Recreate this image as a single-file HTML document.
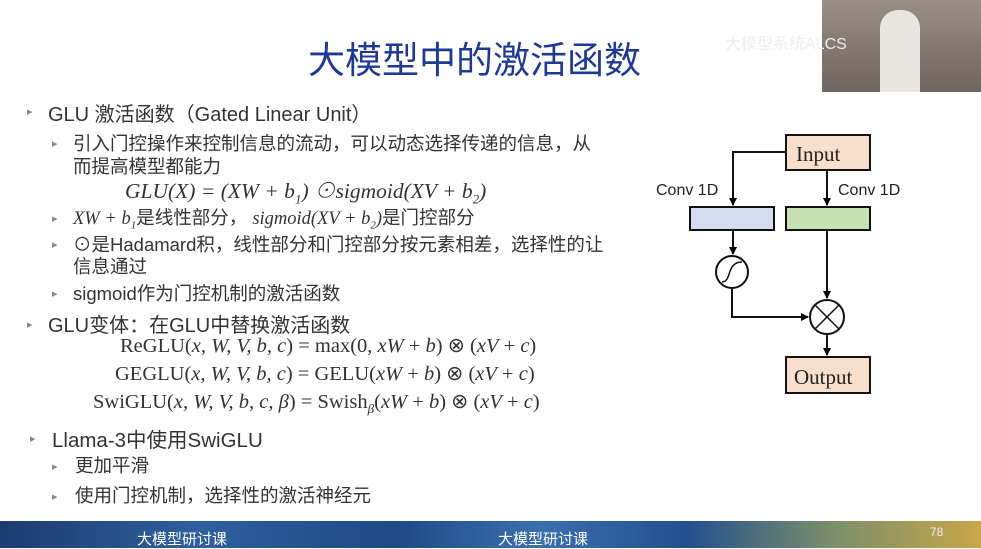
<!DOCTYPE html>
<html><head><meta charset="utf-8"><style>
body{margin:0;width:981px;height:548px;overflow:hidden;background:#fff;position:relative;font-family:"Liberation Sans","Noto Sans CJK SC",sans-serif;color:#333}
.t{position:absolute;white-space:nowrap}
.b{position:absolute;font-size:11px;color:#888}
.m{font-family:"Liberation Serif","Noto Serif CJK SC",serif;font-style:italic}
.r{font-family:"Liberation Serif",serif}
</style></head><body>
<div class="t" style="left:308px;top:30px;font-size:37px;color:#1f3a93">大模型中的激活函数</div>
<div style="position:absolute;left:822px;top:0;width:159px;height:92px;background:linear-gradient(#9a8f86,#6e6660)"></div>
<div style="position:absolute;left:880px;top:10px;width:40px;height:82px;background:#e9e6e2;border-radius:18px 18px 0 0"></div>
<div class="t" style="left:725px;top:30px;font-size:16px;color:#eee">大模型系统ALCS</div>

<div class="b" style="left:27px;top:105px">▸</div>
<div class="t" style="left:48px;top:98px;font-size:20px">GLU 激活函数（Gated Linear Unit）</div>
<div class="b" style="left:52px;top:137px">▸</div>
<div class="t" style="left:73px;top:130px;font-size:18.5px">引入门控操作来控制信息的流动，可以动态选择传递的信息，从</div>
<div class="t" style="left:73px;top:153px;font-size:18.5px">而提高模型都能力</div>
<div class="t m" style="left:125px;top:174px;font-size:21.5px">GLU(X) = (XW + b<sub style="font-size:13px">1</sub>) ⊙sigmoid(XV + b<sub style="font-size:13px">2</sub>)</div>
<div class="b" style="left:52px;top:212px">▸</div>
<div class="t" style="left:73px;top:204px;font-size:18.5px"><span class="m">XW + b<sub style="font-size:11px">1</sub></span>是线性部分， <span class="m">sigmoid(XV + b<sub style="font-size:11px">2</sub>)</span>是门控部分</div>
<div class="b" style="left:52px;top:238px">▸</div>
<div class="t" style="left:73px;top:231px;font-size:18.5px">⊙是Hadamard积，线性部分和门控部分按元素相差，选择性的让</div>
<div class="t" style="left:73px;top:253px;font-size:18.5px">信息通过</div>
<div class="b" style="left:52px;top:287px">▸</div>
<div class="t" style="left:73px;top:280px;font-size:18.5px">sigmoid作为门控机制的激活函数</div>
<div class="b" style="left:27px;top:318px">▸</div>
<div class="t" style="left:48px;top:309px;font-size:20px">GLU变体：在GLU中替换激活函数</div>
<div class="t r" style="left:120px;top:333px;font-size:20.5px">ReGLU(<i>x, W, V, b, c</i>) = max(0, <i>xW</i> + <i>b</i>) ⊗ (<i>xV</i> + <i>c</i>)</div>
<div class="t r" style="left:115px;top:361px;font-size:20.5px">GEGLU(<i>x, W, V, b, c</i>) = GELU(<i>xW</i> + <i>b</i>) ⊗ (<i>xV</i> + <i>c</i>)</div>
<div class="t r" style="left:93px;top:389px;font-size:20.5px">SwiGLU(<i>x, W, V, b, c, β</i>) = Swish<sub style="font-size:13px"><i>β</i></sub>(<i>xW</i> + <i>b</i>) ⊗ (<i>xV</i> + <i>c</i>)</div>
<div class="b" style="left:30px;top:432px">▸</div>
<div class="t" style="left:52px;top:423px;font-size:20.5px">Llama-3中使用SwiGLU</div>
<div class="b" style="left:52px;top:460px">▸</div>
<div class="t" style="left:75px;top:452px;font-size:18.5px">更加平滑</div>
<div class="b" style="left:52px;top:490px">▸</div>
<div class="t" style="left:75px;top:482px;font-size:18.5px">使用门控机制，选择性的激活神经元</div>

<svg style="position:absolute;left:0;top:0" width="981" height="548">
<defs><marker id="a" markerWidth="8" markerHeight="8" refX="7" refY="4" orient="auto" markerUnits="userSpaceOnUse"><path d="M0,0L8,4L0,8z" fill="#000"/></marker></defs>
<g stroke="#111" stroke-width="2" fill="none">
<rect x="786" y="135" width="84" height="35" fill="#f8dfcc"/>
<rect x="690" y="207" width="84" height="23" fill="#d4dcef"/>
<rect x="786" y="207" width="84" height="23" fill="#c5e0b3"/>
<rect x="786" y="357" width="84" height="36" fill="#f8dfcc"/>
<path d="M786,152H733V205" marker-end="url(#a)"/>
<path d="M827,170V205" marker-end="url(#a)"/>
<path d="M733,230V254" marker-end="url(#a)"/>
<circle cx="732" cy="272" r="16" fill="#fff"/>
<path d="M722,282C732,282 726,262 742,262" stroke-width="1.5"/>
<path d="M827,230V298" marker-end="url(#a)"/>
<path d="M732,288V317H808" marker-end="url(#a)"/>
<circle cx="827" cy="317" r="17" fill="#fff"/>
<path d="M815,305L839,329M839,305L815,329" stroke-width="1.5"/>
<path d="M827,334V355" marker-end="url(#a)"/>
</g>
<text x="796" y="161" font-family="Liberation Serif,serif" font-size="21" fill="#222">Input</text>
<text x="794" y="384" font-family="Liberation Serif,serif" font-size="21" fill="#222">Output</text>
<text x="656" y="195" font-family="Liberation Sans,sans-serif" font-size="16" fill="#222">Conv 1D</text>
<text x="838" y="195" font-family="Liberation Sans,sans-serif" font-size="16" fill="#222">Conv 1D</text>
</svg>

<div style="position:absolute;left:0;top:521px;width:981px;height:27px;background:linear-gradient(90deg,#1c3b6e,#2f5f9e 20%,#1e4a86 40%,#3a6fae 55%,#23508e 70%,#7b8f6a 85%,#c9a64a)"></div>
<div class="t" style="left:137px;top:528px;font-size:15px;color:#fff">大模型研讨课</div>
<div class="t" style="left:498px;top:528px;font-size:15px;color:#fff">大模型研讨课</div>
<div class="t" style="left:930px;top:525px;font-size:12px;color:#eee">78</div>
</body></html>
